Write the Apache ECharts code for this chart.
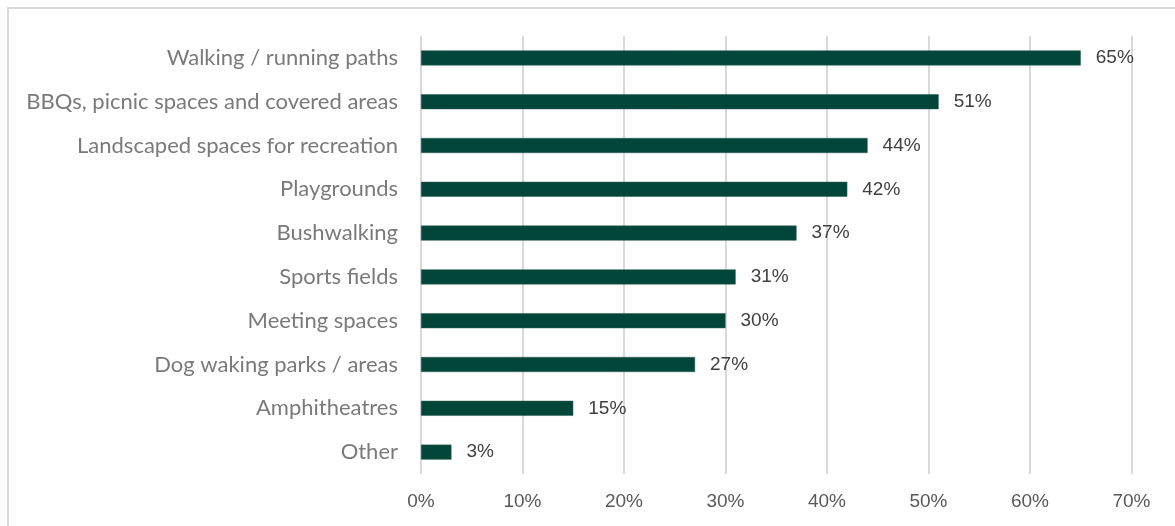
<!DOCTYPE html>
<html>
<head>
<meta charset="utf-8">
<script src="https://cdn.jsdelivr.net/npm/echarts@6/dist/echarts.min.js"></script>
<style>
  html, body { margin: 0; padding: 0; background: #ffffff; }
  #frame {
    position: absolute; left: 7px; top: 7px; width: 1200px; height: 560px;
    border-left: 2px solid #d9d9d9; border-top: 2px solid #d9d9d9; box-sizing: border-box;
  }
  #chart { position: absolute; left: 0; top: 0; width: 1175px; height: 526px; }
</style>
</head>
<body>
<div id="frame"></div>
<div id="chart"></div>
<script>
// Facilities people would like to see, share of respondents (%)
const categories = [
  'Walking / running paths',
  'BBQs, picnic spaces and covered areas',
  'Landscaped spaces for recreation',
  'Playgrounds',
  'Bushwalking',
  'Sports fields',
  'Meeting spaces',
  'Dog waking parks / areas',
  'Amphitheatres',
  'Other'
];
const shares = [65, 51, 44, 42, 37, 31, 30, 27, 15, 3];
const axisTicks = [0, 10, 20, 30, 40, 50, 60, 70];

const chart = echarts.init(document.getElementById('chart'), null, { renderer: 'canvas' });
chart.setOption({
  animation: false,
  grid: { left: 421, right: 1175 - 1131.5, top: 36, bottom: 526 - 474, containLabel: false },
  xAxis: {
    type: 'value',
    min: axisTicks[0],
    max: axisTicks[axisTicks.length - 1],
    interval: 10,
    axisLine: { show: false },
    axisTick: { show: false },
    splitLine: { show: true, lineStyle: { color: '#d9d9d9', width: 2 } },
    axisLabel: {
      formatter: v => v + '%',
      color: '#595959',
      fontFamily: 'Liberation Sans, Arial, sans-serif',
      fontSize: 19,
      margin: 18
    }
  },
  yAxis: {
    type: 'category',
    data: categories,
    inverse: true,
    axisLine: { show: false },
    axisTick: { show: false },
    axisLabel: {
      color: '#7a7a7a',
      fontFamily: 'Lato, Open Sans, sans-serif',
      fontSize: 22,
      margin: 23
    }
  },
  series: [{
    type: 'bar',
    data: shares,
    barWidth: 15,
    itemStyle: { color: '#02463a', borderColor: '#2a5e52', borderWidth: 0.5 },
    label: {
      show: true,
      position: 'right',
      distance: 15,
      formatter: p => p.value + '%',
      color: '#404040',
      fontFamily: 'Liberation Sans, Arial, sans-serif',
      fontSize: 19
    }
  }]
});
</script>
</body>
</html>
